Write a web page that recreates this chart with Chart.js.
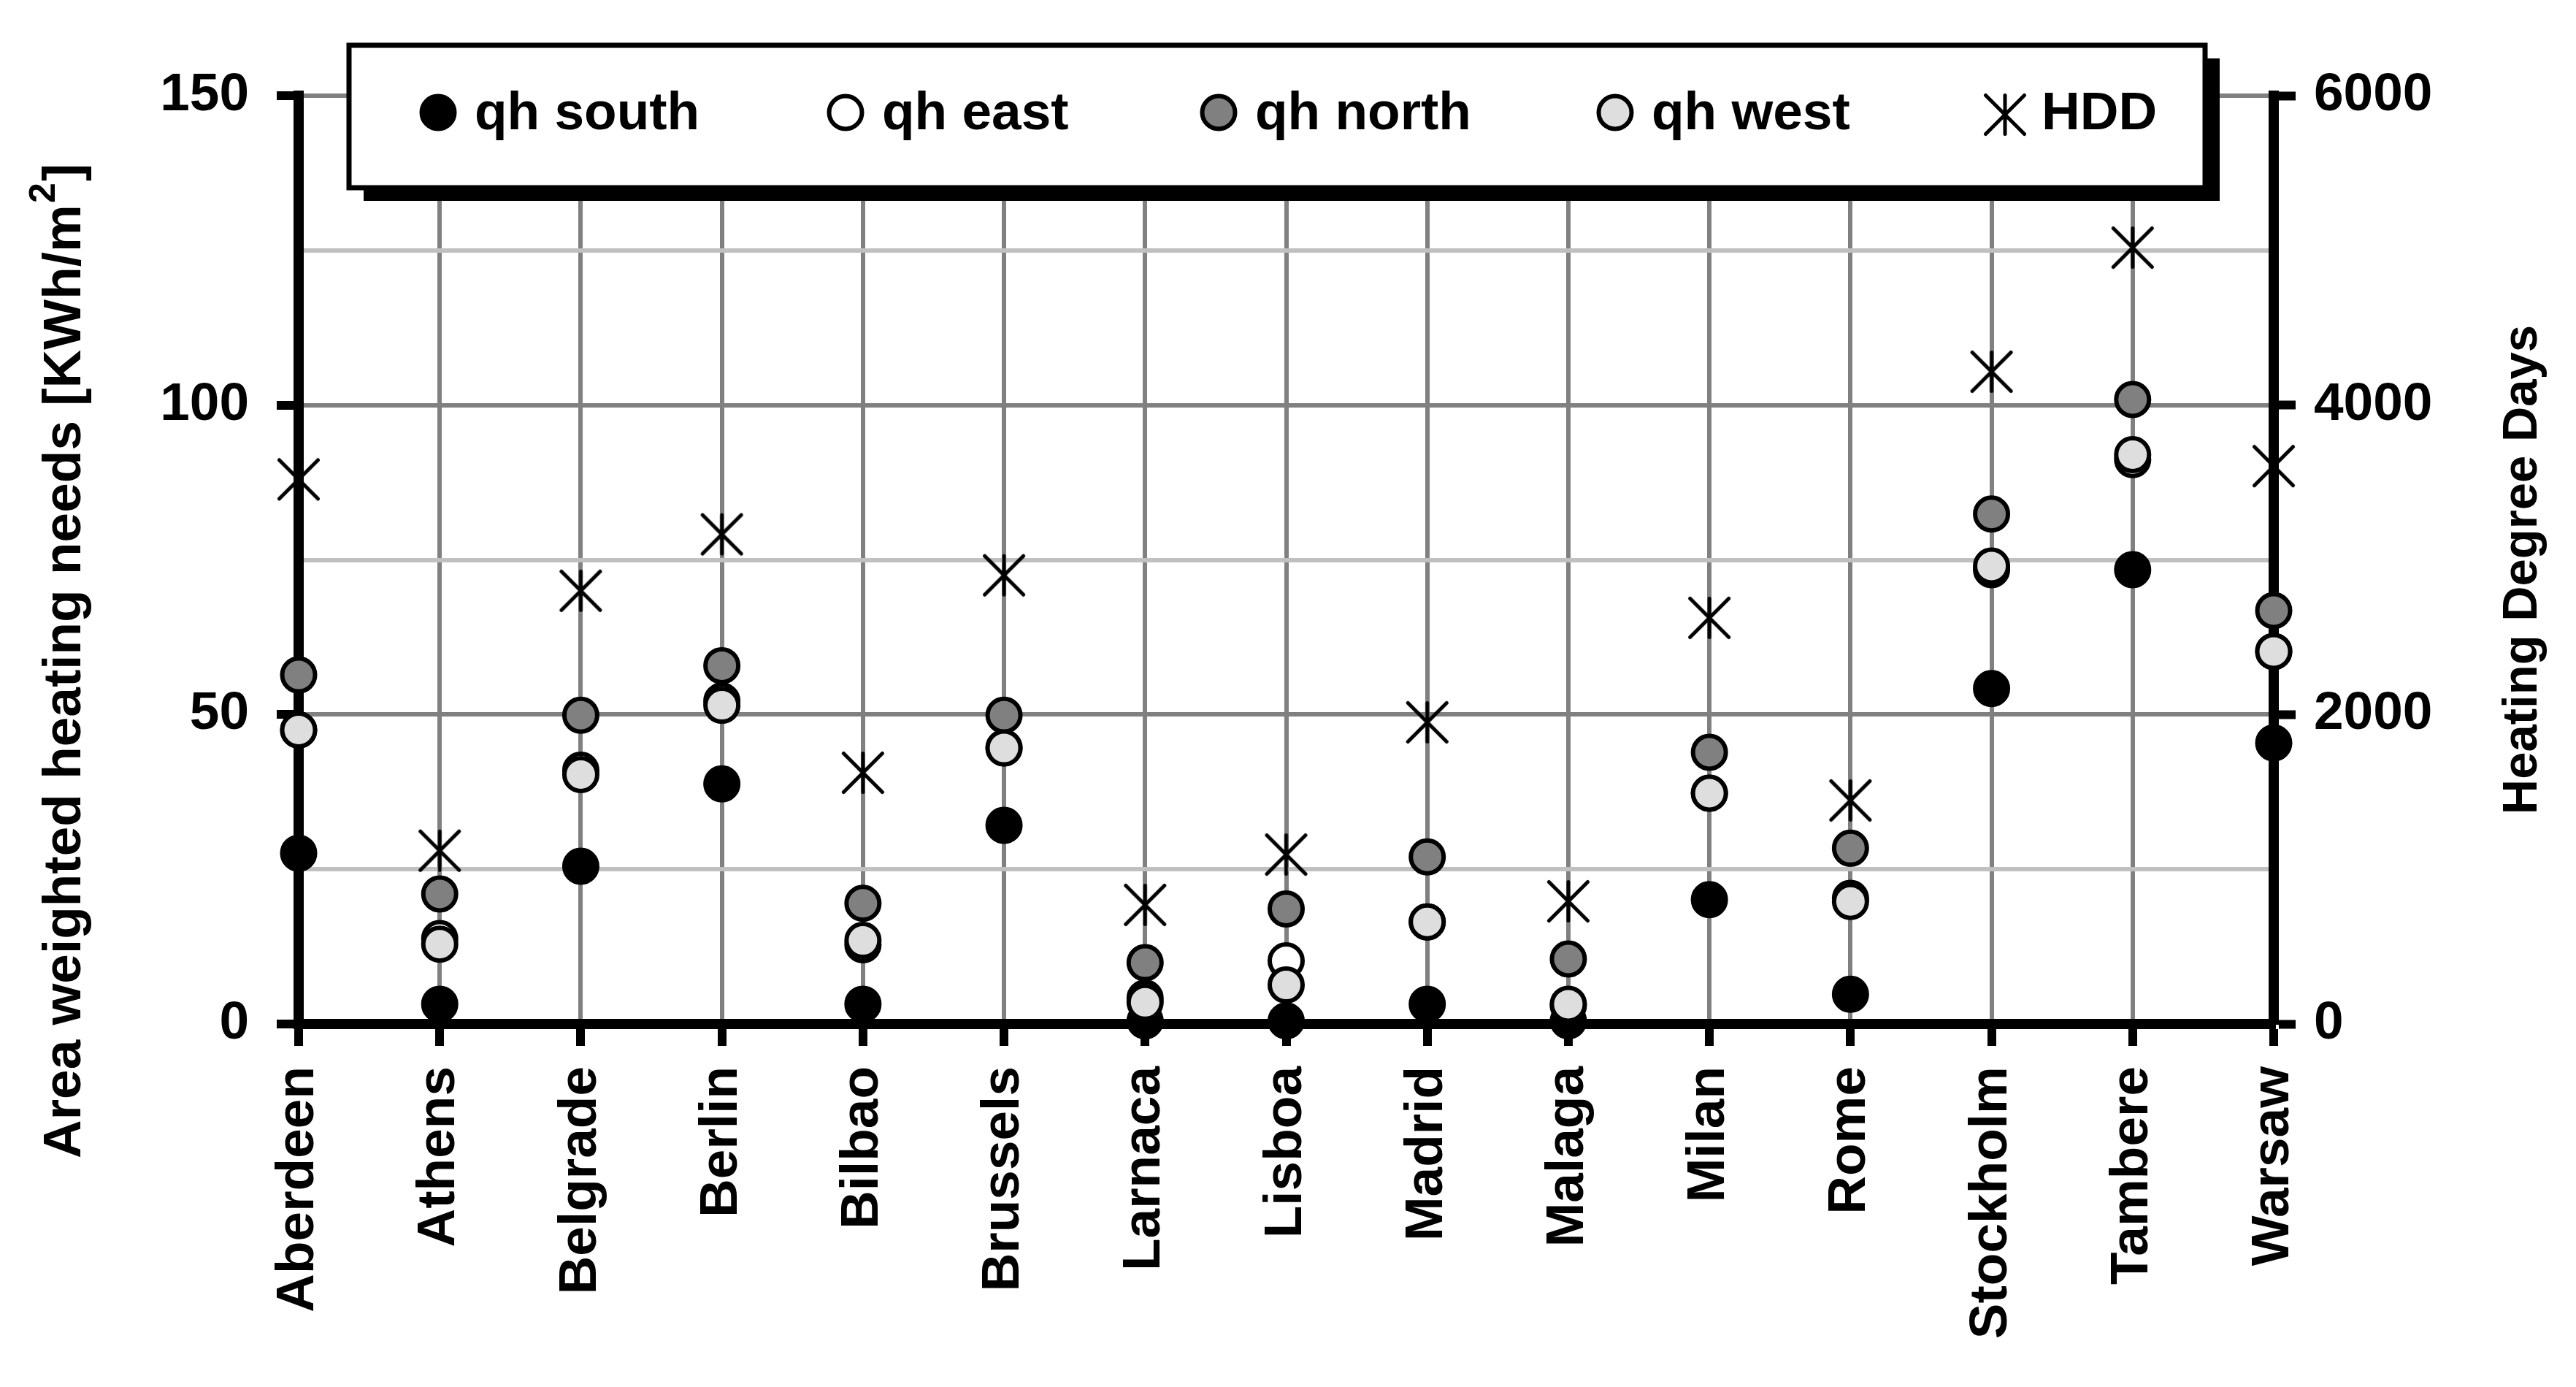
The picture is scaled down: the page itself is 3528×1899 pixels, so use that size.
<!DOCTYPE html>
<html>
<head>
<meta charset="utf-8">
<script src="https://cdn.jsdelivr.net/npm/chart.js@4.4.1/dist/chart.umd.min.js"></script>
<style>
html,body{margin:0;padding:0;background:#fff;}
canvas{display:block;}
</style>
</head>
<body>
<canvas id="c" width="3528" height="1899" style="width:3528px;height:1899px"></canvas>
<script>
// ---- data ----
const categories = ['Aberdeen','Athens','Belgrade','Berlin','Bilbao','Brussels','Larnaca','Lisboa','Madrid','Malaga','Milan','Rome','Stockholm','Tambere','Warsaw'];
const qhSouth = [27.6, 3.2, 25.5, 38.8, 3.2, 32.1, 0.5, 0.5, 3.2, 0.5, 20.1, 4.8, 54.2, 73.4, 45.4];
const qhEast  = [47.5, 13.8, 41.0, 52.2, 12.8, 44.6, 4.2, 10.2, 16.5, 3.0, 37.3, 20.3, 73.4, 91.2, 60.2];
const qhNorth = [56.4, 21.0, 49.9, 57.9, 19.5, 49.9, 9.9, 18.6, 27.0, 10.5, 43.9, 28.4, 82.4, 100.9, 66.8];
const qhWest  = [47.5, 12.9, 40.3, 51.5, 13.5, 44.6, 3.5, 6.3, 16.5, 3.2, 37.3, 19.8, 74.0, 92.0, 60.2];
const hdd     = [3520, 1120, 2800, 3165, 1624, 2900, 770, 1095, 1950, 793, 2625, 1445, 4216, 5018, 3606];
const seriesNames = ['qh south','qh east','qh north','qh west','HDD'];
const leftTickLabels = ['0','50','100','150'];
const rightTickLabels = ['0','2000','4000','6000'];
const leftTitleMain = 'Area weighted heating needs [KWh/m';
const leftTitleSup = '2';
const leftTitleEnd = ']';
const rightTitle = 'Heating Degree Days';

// ---- styles ----
const FONT = '"Liberation Sans", Arial, Helvetica, sans-serif';
const fills = ['#000000', '#ffffff', '#808080', '#dedede'];
const PR = 22.5, PBW = 6;

function makeStar(size, lw) {
  const c = document.createElement('canvas');
  c.width = size; c.height = size;
  const g = c.getContext('2d');
  g.strokeStyle = '#000'; g.lineWidth = lw; g.lineCap = 'round';
  const m = lw / 2 + 1, e = size - m, h = size / 2;
  g.beginPath();
  g.moveTo(m, m); g.lineTo(e, e);
  g.moveTo(e, m); g.lineTo(m, e);
  g.moveTo(h, m); g.lineTo(h, e);
  g.stroke();
  return c;
}
const star = makeStar(60, 5);

Chart.defaults.font.family = FONT;
Chart.defaults.font.weight = 'bold';
Chart.defaults.font.size = 73;
Chart.defaults.color = '#000';

const isMajor = c => c.tick && Math.round(c.tick.value) % 50 === 0;

const overlay = {
  id: 'overlay',
  afterDraw(chart) {
    const ctx = chart.ctx;
    ctx.save();
    // left title (bottom-to-top)
    ctx.fillStyle = '#000';
    ctx.font = 'bold 73px ' + FONT;
    const wMain = ctx.measureText(leftTitleMain).width;
    const wEnd = ctx.measureText(leftTitleEnd).width;
    ctx.font = 'bold 50px ' + FONT;
    const wSup = ctx.measureText(leftTitleSup).width;
    const total = wMain + wSup + wEnd;
    ctx.translate(110, 907);
    ctx.rotate(-Math.PI / 2);
    ctx.textAlign = 'left'; ctx.textBaseline = 'alphabetic';
    let x0 = -total / 2;
    ctx.font = 'bold 73px ' + FONT;
    ctx.fillText(leftTitleMain, x0, 0);
    ctx.font = 'bold 50px ' + FONT;
    ctx.fillText(leftTitleSup, x0 + wMain + 2, -35);
    ctx.font = 'bold 73px ' + FONT;
    ctx.fillText(leftTitleEnd, x0 + wMain + wSup + 4, 0);
    ctx.restore();

    // right title
    ctx.save();
    ctx.fillStyle = '#000';
    ctx.font = 'bold 67px ' + FONT;
    ctx.translate(3474, 780);
    ctx.rotate(-Math.PI / 2);
    ctx.textAlign = 'center'; ctx.textBaseline = 'alphabetic';
    ctx.fillText(rightTitle, 0, 0);
    ctx.restore();

    // legend box
    ctx.save();
    const L = {x: 478, y: 62, w: 2542, h: 195};
    ctx.fillStyle = '#000';
    ctx.fillRect(L.x + 20, L.y + 18, L.w, L.h);
    ctx.fillStyle = '#fff';
    ctx.fillRect(L.x, L.y, L.w, L.h);
    ctx.lineWidth = 7; ctx.strokeStyle = '#000';
    ctx.strokeRect(L.x, L.y, L.w, L.h);
    const itemX = [600, 1158, 1669, 2212, 2746];
    ctx.font = 'bold 73px ' + FONT;
    ctx.textAlign = 'left'; ctx.textBaseline = 'alphabetic';
    chart.data.datasets.forEach((ds, i) => {
      const mx = itemX[i], my = 154;
      if (i < 4) {
        ctx.beginPath();
        ctx.arc(mx, my, PR, 0, Math.PI * 2);
        ctx.fillStyle = fills[i]; ctx.fill();
        ctx.lineWidth = PBW; ctx.strokeStyle = '#000'; ctx.stroke();
      } else {
        ctx.drawImage(star, mx - 30, my + 3 - 30);
      }
      ctx.fillStyle = '#000';
      ctx.fillText(ds.label, mx + 50, 177);
    });
    ctx.restore();
  }
};

const seriesData = [qhSouth, qhEast, qhNorth, qhWest];
const datasets = seriesData.map((d, i) => ({
  label: seriesNames[i],
  data: d,
  yAxisID: 'y',
  showLine: false,
  pointStyle: 'circle',
  pointRadius: PR,
  pointBorderWidth: PBW,
  pointBackgroundColor: fills[i],
  pointBorderColor: '#000',
  backgroundColor: fills[i],
  borderColor: '#000',
  order: 5 - i,
  clip: false
}));
datasets.push({
  label: seriesNames[4],
  data: hdd,
  yAxisID: 'y1',
  showLine: false,
  pointStyle: star,
  pointRadius: 28,
  backgroundColor: '#000',
  borderColor: '#000',
  order: 0,
  clip: false
});

new Chart(document.getElementById('c'), {
  type: 'line',
  data: { labels: categories, datasets },
  options: {
    responsive: false,
    devicePixelRatio: 1,
    animation: false,
    events: [],
    layout: { padding: { top: 131, left: 0, right: 0, bottom: 0 } },
    plugins: { legend: { display: false }, tooltip: { enabled: false }, title: { display: false } },
    scales: {
      x: {
        type: 'category',
        offset: false,
        grid: { color: '#808080', lineWidth: 6, tickColor: '#000', tickWidth: 12, tickLength: 30 },
        border: { color: '#000', width: 14 },
        ticks: { autoSkip: false, maxRotation: 90, minRotation: 90, padding: 28, font: { size: 73, weight: 'bold' } },
        afterFit: s => { s.height = 497; }
      },
      y: {
        position: 'left',
        min: 0, max: 150,
        ticks: { stepSize: 25, padding: 38, font: { size: 73, weight: 'bold' },
          callback: v => leftTickLabels.includes(String(v)) ? String(v) : '' },
        grid: { color: c => isMajor(c) ? '#808080' : '#c0c0c0', lineWidth: 6,
          tickColor: c => isMajor(c) ? '#000' : 'rgba(0,0,0,0)', tickWidth: 12, tickLength: 30 },
        border: { color: '#000', width: 14 },
        afterFit: s => { s.width = 409; }
      },
      y1: {
        position: 'right',
        min: 0, max: 6000,
        ticks: { stepSize: 2000, padding: 25, font: { size: 73, weight: 'bold' },
          callback: v => rightTickLabels.includes(String(v)) ? String(v) : '' },
        grid: { drawOnChartArea: false, tickColor: '#000', tickWidth: 12, tickLength: 30 },
        border: { color: '#000', width: 14 },
        afterFit: s => { s.width = 414; }
      }
    }
  },
  plugins: [overlay]
});
</script>
</body>
</html>
